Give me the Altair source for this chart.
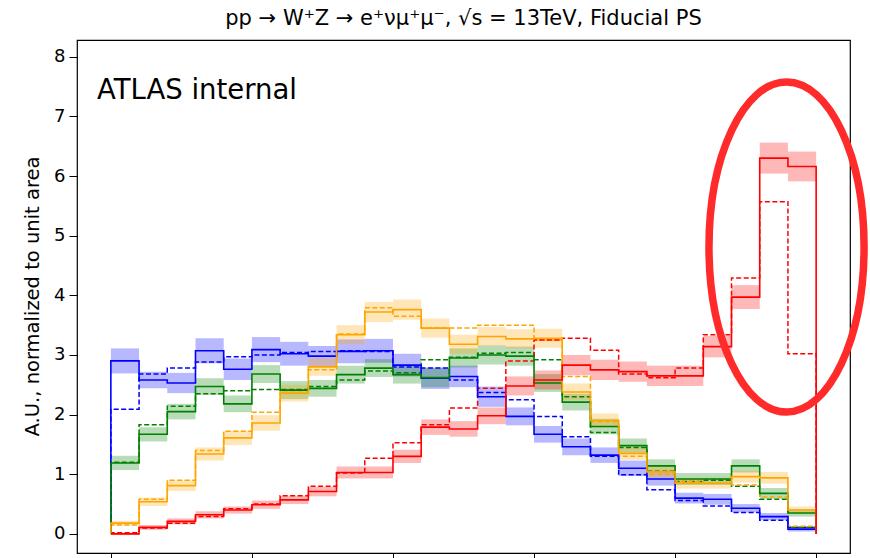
import altair as alt
import pandas as pd

# Bin index edges: 25 bins on [0, 25]
N_BINS = 25
EDGES = list(range(N_BINS + 1))

# Per-bin normalised yields: nominal (solid), alternative (dashed), band half-width
blue_nom = [2.90, 2.58, 2.53, 3.07, 2.76, 3.09, 3.02, 2.98, 3.06, 3.07, 2.83, 2.61, 2.64,
            2.30, 1.97, 1.67, 1.46, 1.32, 1.10, 0.92, 0.60, 0.58, 0.43, 0.29, 0.08]
blue_alt = [2.09, 2.68, 2.78, 2.88, 2.97, 3.00, 3.04, 3.06, 3.07, 3.06, 2.80, 2.78, 2.58,
            2.37, 2.25, 1.97, 1.63, 1.30, 0.99, 0.74, 0.56, 0.47, 0.36, 0.23, 0.11]
blue_err = [0.21, 0.14, 0.17, 0.21, 0.18, 0.21, 0.20, 0.17, 0.20, 0.20, 0.19, 0.18, 0.18,
            0.17, 0.15, 0.14, 0.14, 0.13, 0.13, 0.11, 0.09, 0.09, 0.07, 0.06, 0.04]

green_nom = [1.19, 1.67, 2.05, 2.47, 2.18, 2.68, 2.41, 2.44, 2.67, 2.78, 2.67, 2.62, 2.95,
             3.00, 2.98, 2.53, 2.21, 1.80, 1.48, 1.14, 0.92, 0.92, 1.14, 0.68, 0.35]
green_alt = [1.20, 1.83, 2.14, 2.35, 2.40, 2.42, 2.42, 2.47, 2.58, 2.73, 2.70, 2.92, 2.96,
             3.03, 3.04, 2.92, 2.30, 1.70, 1.45, 1.05, 0.88, 0.90, 0.80, 0.58, 0.11]
green_err = [0.12, 0.12, 0.13, 0.14, 0.14, 0.15, 0.15, 0.14, 0.15, 0.15, 0.15, 0.16, 0.16,
             0.16, 0.16, 0.15, 0.14, 0.13, 0.12, 0.11, 0.10, 0.10, 0.11, 0.09, 0.06]

orange_nom = [0.18, 0.54, 0.81, 1.34, 1.61, 1.86, 2.36, 2.80, 3.34, 3.72, 3.76, 3.45, 3.18,
              3.31, 3.27, 3.28, 2.38, 1.90, 1.35, 1.04, 0.85, 0.85, 0.96, 0.94, 0.40]
orange_alt = [0.15, 0.58, 0.90, 1.40, 1.72, 2.04, 2.40, 2.75, 3.35, 3.79, 3.65, 3.45, 3.45,
              3.50, 3.50, 3.25, 2.64, 1.88, 1.30, 1.00, 0.88, 0.85, 0.82, 0.62, 0.13]
orange_err = [0.04, 0.07, 0.09, 0.11, 0.12, 0.13, 0.14, 0.15, 0.16, 0.17, 0.17, 0.16, 0.16,
              0.16, 0.16, 0.16, 0.14, 0.12, 0.11, 0.10, 0.09, 0.09, 0.10, 0.10, 0.06]

red_nom = [0.00, 0.11, 0.21, 0.32, 0.40, 0.49, 0.57, 0.71, 1.03, 1.03, 1.30, 1.79, 1.76,
           1.98, 2.48, 2.58, 2.83, 2.75, 2.72, 2.65, 2.65, 3.14, 3.97, 6.30, 6.16]
red_alt = [0.02, 0.10, 0.18, 0.29, 0.42, 0.50, 0.64, 0.80, 1.02, 1.27, 1.53, 1.83, 2.11,
           2.44, 2.90, 3.25, 3.28, 3.08, 2.68, 2.62, 2.78, 3.34, 4.29, 5.57, 3.02]
red_err = [0.02, 0.04, 0.05, 0.06, 0.06, 0.07, 0.07, 0.08, 0.10, 0.10, 0.11, 0.13, 0.13,
           0.14, 0.16, 0.16, 0.17, 0.17, 0.17, 0.17, 0.17, 0.18, 0.20, 0.26, 0.25]

SERIES = ["blue", "green", "orange", "red"]
COLORS = ["#0000ff", "#008000", "#ffa500", "#ff0000"]
NOMINAL = {"blue": blue_nom, "green": green_nom, "orange": orange_nom, "red": red_nom}
ALTERNATIVE = {"blue": blue_alt, "green": green_alt, "orange": orange_alt, "red": red_alt}
ERRORS = {"blue": blue_err, "green": green_err, "orange": orange_err, "red": red_err}

TITLE = "pp \u2192 W\u207aZ \u2192 e\u207a\u03bd\u03bc\u207a\u03bc\u207b, \u221as = 13TeV, Fiducial PS"
FONT = "DejaVu Sans"


def step_rows(series, style, values):
    """Closed step outline: rise from 0 at the first edge, drop to 0 at the last."""
    rows = [{"series": series, "style": style, "x": EDGES[0], "y": 0.0, "k": 0}]
    for i, v in enumerate(values):
        rows.append({"series": series, "style": style, "x": EDGES[i], "y": v, "k": i + 1})
    rows.append({"series": series, "style": style, "x": EDGES[-1], "y": 0.0, "k": len(values) + 1})
    return rows


line_rows, band_rows = [], []
for s in SERIES:
    line_rows += step_rows(s, "nominal", NOMINAL[s])
    line_rows += step_rows(s, "alternative", ALTERNATIVE[s])
    for i, (v, e) in enumerate(zip(NOMINAL[s], ERRORS[s])):
        band_rows.append({"series": s, "x0": EDGES[i], "x1": EDGES[i + 1],
                          "lo": v - e, "hi": v + e})

lines = pd.DataFrame(line_rows)
bands = pd.DataFrame(band_rows)

x_scale = alt.Scale(domain=[-1.2, 26.2], nice=False, zero=False)
y_scale = alt.Scale(domain=[-0.32, 8.28], nice=False, zero=False)
color = alt.Color("series:N", scale=alt.Scale(domain=SERIES, range=COLORS), legend=None)

x_axis = alt.Axis(values=[0, 5, 10, 15, 20, 25], labels=False, title=None, grid=False,
                  domain=False, tickColor="#000", tickSize=7, tickWidth=1)
y_axis = alt.Axis(values=list(range(9)), title="A.U., normalized to unit area", grid=False,
                  domain=False, tickColor="#000", tickSize=8, tickWidth=1,
                  labelFontSize=18, labelFont=FONT, labelColor="#000", labelPadding=4,
                  titleFontSize=19.5, titleFont=FONT, titleFontWeight="normal",
                  titleColor="#000", titleX=-45, titleY=256, titleAngle=-90,
                  titleAlign="center", titleBaseline="middle")

band_layer = alt.Chart(bands).mark_rect(opacity=0.28, strokeWidth=0).encode(
    x=alt.X("x0:Q", scale=x_scale, axis=x_axis),
    x2="x1:Q",
    y=alt.Y("lo:Q", scale=y_scale, axis=y_axis),
    y2="hi:Q",
    color=color,
)

alt_layer = alt.Chart(lines[lines["style"] == "alternative"]).mark_line(
    interpolate="step-after", strokeWidth=1.5, strokeDash=[5, 2.5]
).encode(
    x=alt.X("x:Q", scale=x_scale, axis=x_axis),
    y=alt.Y("y:Q", scale=y_scale, axis=y_axis),
    color=color,
    order="k:Q",
)

nom_layer = alt.Chart(lines[lines["style"] == "nominal"]).mark_line(
    interpolate="step-after", strokeWidth=1.6
).encode(
    x=alt.X("x:Q", scale=x_scale, axis=x_axis),
    y=alt.Y("y:Q", scale=y_scale, axis=y_axis),
    color=color,
    order="k:Q",
)

label_layer = alt.Chart(pd.DataFrame({"t": ["ATLAS internal"]})).mark_text(
    align="left", baseline="alphabetic", fontSize=27.5, font=FONT, color="#000"
).encode(x=alt.value(20), y=alt.value(59), text="t:N")

# Highlight ring around the last two bins
ELLIPSE = ("M0,-1 C0.26,-1 0.47,-0.552 0.47,0 C0.47,0.552 0.26,1 0,1 "
           "C-0.26,1 -0.47,0.552 -0.47,0 C-0.47,-0.552 -0.26,-1 0,-1 Z")
ring_layer = alt.Chart(pd.DataFrame({"cx": [23.95], "cy": [4.81]})).mark_point(
    shape=ELLIPSE, size=108900, filled=False, stroke="#ff2b2b", strokeWidth=7.5, opacity=1
).encode(
    x=alt.X("cx:Q", scale=x_scale, axis=x_axis),
    y=alt.Y("cy:Q", scale=y_scale, axis=y_axis),
)

chart = alt.layer(band_layer, alt_layer, nom_layer, label_layer, ring_layer).properties(
    width=773, height=513,
    title=alt.TitleParams(TITLE, fontSize=21, font=FONT, fontWeight="normal",
                          anchor="middle", offset=11, color="#000"),
    autosize=alt.AutoSizeParams(type="none"),
    padding={"left": 77, "top": 40, "right": 20, "bottom": 5},
    background="white",
).configure_view(stroke="#000", strokeWidth=1.2)

chart.save("out.html", embed_options={"renderer": "svg", "actions": False})
